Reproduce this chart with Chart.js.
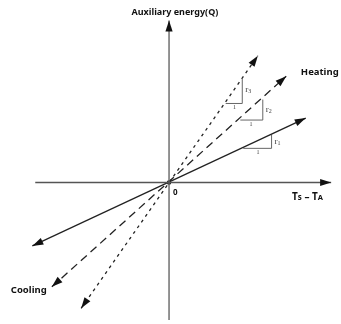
<!DOCTYPE html>
<html>
<head>
<meta charset="utf-8">
<script src="https://cdn.jsdelivr.net/npm/chart.js@4/dist/chart.umd.min.js"></script>
<style>
  html, body { margin: 0; padding: 0; background: #fff; }
  canvas { display: block; }
</style>
</head>
<body>
<canvas id="chart" width="341" height="324"></canvas>
<script>
// Axis ends (chart units, origin at 0,0)
const xAxisEnds = [[-137, 0], [166, 0]];
const yAxisEnds = [[0, -141], [0, 166]];
const origin = [[0, 0]];

// Rays through the origin, slopes r1 < r2 < r3
const rayR1 = [[-140, -65], [140, 66]];
const rayR2 = [[-120, -107], [120, 109]];
const rayR3 = [[-90, -129], [91, 130]];

// Slope triangles (run of 1, rise of r)
const triR1 = [[76, 35], [105, 35], [105, 49]];
const triR2 = [[73, 64], [96, 64], [96, 85]];
const triR3 = [[58, 81], [75, 81], [75, 106]];

// Text labels
const slopeNames = ["1", "2", "3"];
const slopeLabelAt = [[108, 42], [99, 75], [78, 95]];
const runLabelAt = [[91, 31], [84, 60], [67, 77]];
const titleY = "Auxiliary energy(Q)";
const sideLabels = ["Heating", "Cooling"];

const toXY = (pts) => pts.map(([x, y]) => ({ x, y }));

const INK = "#222";

function ds(points, opts) {
  return Object.assign({
    data: toXY(points),
    borderColor: INK,
    borderWidth: 1.3,
    pointRadius: 0,
    tension: 0,
    fill: false,
    arrow: "none"
  }, opts);
}

// Arrowheads at the ends of line datasets
const arrowPlugin = {
  id: "arrows",
  afterDatasetsDraw(chart) {
    const ctx = chart.ctx;
    chart.data.datasets.forEach((d, i) => {
      if (d.arrow === "none") return;
      const pts = chart.getDatasetMeta(i).data;
      const ends = [];
      if (d.arrow === "both" || d.arrow === "end") ends.push([pts[pts.length - 1], pts[pts.length - 2]]);
      if (d.arrow === "both") ends.push([pts[0], pts[1]]);
      ends.forEach(([tip, from]) => {
        const ang = Math.atan2(tip.y - from.y, tip.x - from.x);
        const len = 11, half = 3.6;
        ctx.save();
        ctx.translate(tip.x, tip.y);
        ctx.rotate(ang);
        ctx.beginPath();
        ctx.moveTo(0, 0);
        ctx.lineTo(-len, -half);
        ctx.lineTo(-len, half);
        ctx.closePath();
        ctx.fillStyle = "#111";
        ctx.fill();
        ctx.restore();
      });
    });
  }
};

// Text annotations placed through the scales
const textPlugin = {
  id: "texts",
  afterDatasetsDraw(chart) {
    const ctx = chart.ctx;
    const xs = chart.scales.x, ys = chart.scales.y;
    const px = (x) => xs.getPixelForValue(x);
    const py = (y) => ys.getPixelForValue(y);
    ctx.save();
    ctx.fillStyle = "#111";
    ctx.textBaseline = "middle";

    ctx.font = "bold 9px 'Noto Sans'";
    ctx.textAlign = "center";
    ctx.fillText(titleY, px(6), py(174));

    ctx.textAlign = "left";
    ctx.font = "bold 9.5px 'Noto Sans'";
    ctx.fillText(sideLabels[0], px(135), py(113));
    ctx.fillText(sideLabels[1], px(-162), py(-111));

    ctx.font = "bold 8px 'Noto Sans'";
    ctx.fillText("0", px(4), py(-10));

    // Ts − TA
    const segs = [["T", 10], ["s", 8], [" \u2013 ", 10], ["T", 10], ["A", 7.5]];
    let cx = px(126);
    const base = py(-18);
    ctx.textBaseline = "alphabetic";
    segs.forEach(([t, s]) => {
      ctx.font = "bold " + s + "px 'Noto Sans'";
      ctx.fillText(t, cx, base);
      cx += ctx.measureText(t).width;
    });

    // slope labels r1..r3 and run labels
    ctx.fillStyle = "#444";
    slopeNames.forEach((n, i) => {
      const [lx, ly] = slopeLabelAt[i];
      ctx.textBaseline = "middle";
      ctx.font = "9px 'Liberation Serif'";
      ctx.fillText("r", px(lx), py(ly));
      const w = ctx.measureText("r").width;
      ctx.font = "6px 'Liberation Serif'";
      ctx.fillText(n, px(lx) + w, py(ly) + 2);
      const [rx, ry] = runLabelAt[i];
      ctx.textAlign = "center";
      ctx.font = "6px 'Liberation Serif'";
      ctx.fillText("1", px(rx), py(ry));
      ctx.textAlign = "left";
    });
    ctx.restore();
  }
};

new Chart(document.getElementById("chart"), {
  type: "line",
  data: {
    datasets: [
      ds(xAxisEnds, { borderColor: "#555", borderWidth: 1.6, arrow: "end" }),
      ds(yAxisEnds, { borderColor: "#666", borderWidth: 1.4, arrow: "end" }),
      ds(rayR1, { arrow: "both" }),
      ds(rayR2, { borderDash: [8, 5], arrow: "both" }),
      ds(rayR3, { borderDash: [3, 4], arrow: "both" }),
      ds(triR1, { borderColor: "#666", borderWidth: 1 }),
      ds(triR2, { borderColor: "#666", borderWidth: 1 }),
      ds(triR3, { borderColor: "#666", borderWidth: 1 }),
      ds(origin, { pointRadius: 2.2, pointBackgroundColor: "#111", pointBorderWidth: 0, showLine: false })
    ]
  },
  options: {
    responsive: false,
    animation: false,
    layout: { padding: 0 },
    plugins: { legend: { display: false }, tooltip: { enabled: false } },
    scales: {
      x: { type: "linear", min: -169, max: 172, display: false },
      y: { type: "linear", min: -141, max: 183, display: false }
    }
  },
  plugins: [arrowPlugin, textPlugin]
});
</script>
</body>
</html>
